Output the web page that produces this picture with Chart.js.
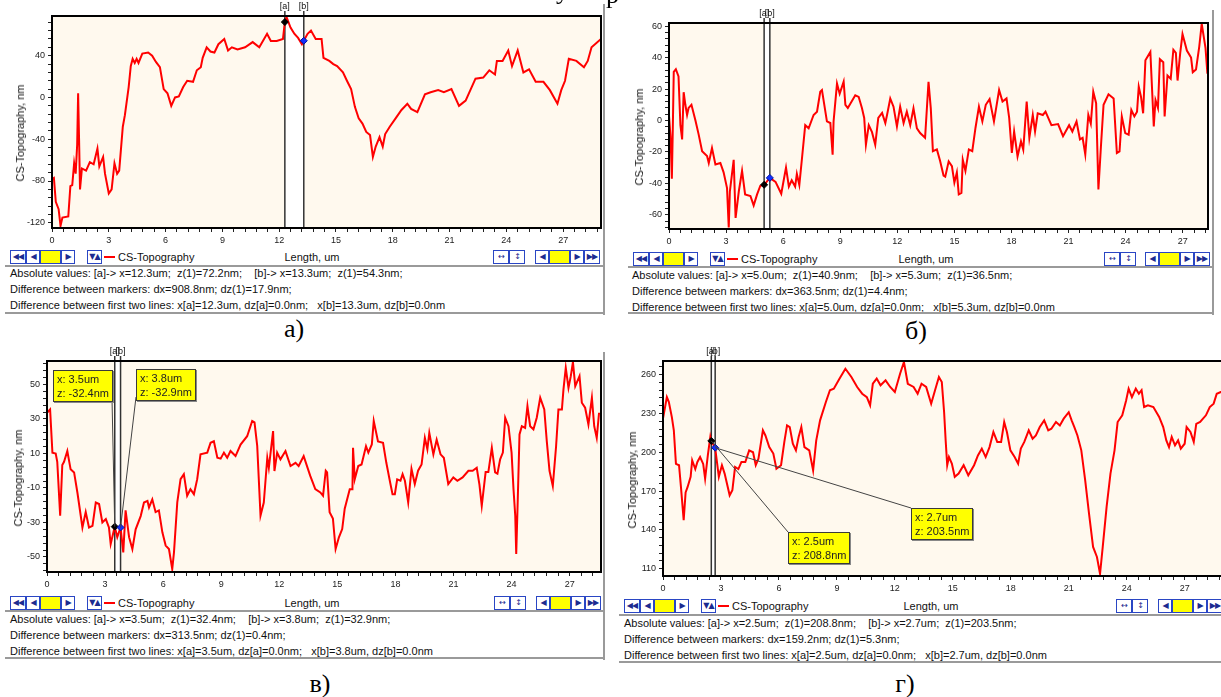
<!DOCTYPE html>
<html>
<head>
<meta charset="utf-8">
<title>CS-Topography</title>
<script src="https://cdn.jsdelivr.net/npm/chart.js@4.4.1/dist/chart.umd.min.js"></script>
<style>
  html, body { margin: 0; padding: 0; }
  body { width: 1221px; height: 697px; overflow: hidden; position: relative; background: #fff;
         font-family: "Liberation Sans", Arial, sans-serif; color: #000; }
  canvas.plot { position: absolute; }
  .info { position: absolute; font-size: 11px; line-height: 16px; white-space: pre; color: #111; }
  .hline { position: absolute; height: 2px; background: #9a9a9a; }
  .vline { position: absolute; width: 2px; background: #9a9a9a; }
  .ytitle { position: absolute; font-size: 11px; white-space: nowrap; transform: translate(-50%, -50%) rotate(-90deg); color: #111; }
  .xtitle { position: absolute; font-size: 11px; white-space: nowrap; transform: translate(-50%, -50%); color: #111; }
  .btn { position: absolute; height: 12px; border: 1px solid #2a46c4; background: #fff; color: #1c2b90;
         font: 8px "DejaVu Sans", sans-serif; line-height: 12px; text-align: center; letter-spacing: -1px; }
  .btn.yel { background: #ffff00; }
  .legline { position: absolute; height: 2px; width: 11px; background: #ff0000; }
  .legtext { position: absolute; font-size: 11px; white-space: nowrap; transform: translateY(-50%); color: #111; }
  .callout { position: absolute; background: #ffff00; border: 1px solid #3a3a3a; box-shadow: 1px 1px 0 #888;
             font-size: 11px; line-height: 14px; padding: 1px 3px; white-space: pre; color: #222; }
  .caption { position: absolute; font: 26px "Liberation Serif", "DejaVu Serif", serif; transform: translate(-50%, -50%); }
  .frag { position: absolute; font: 26px "Liberation Serif", serif; line-height: 30px; }
</style>
</head>
<body>
<script>
// Профили (x, um ; z, nm)
const profileA = [[0,-78],[0.1,-77],[0.2,-100],[0.35,-107],[0.45,-123],[0.55,-115],[0.86,-114],[0.97,-85],[1.07,-84],[1.17,-63],
  [1.25,-73],[1.33,-45],[1.38,4],[1.43,-40],[1.48,-88],[1.58,-68],[1.8,-70],[2.0,-62],[2.2,-64],[2.4,-49],[2.5,-66],[2.7,-57],
  [2.8,-73],[3.0,-92],[3.15,-88],[3.3,-63],[3.44,-73],[3.55,-70],[3.74,-28],[3.85,-17],[4.05,10],[4.16,30],[4.26,37],[4.37,33],
  [4.47,37],[4.57,33],[4.77,42],[5.08,43],[5.29,40],[5.49,34],[5.7,29],[5.9,8],[6.1,4],[6.3,-8],[6.5,0],[6.7,1],[6.93,10],
  [7.14,16],[7.45,15],[7.65,26],[7.86,29],[7.96,38],[8.17,48],[8.37,44],[8.58,43],[8.79,51],[9.1,56],[9.3,45],[9.5,48],[9.8,46],
  [10.2,48],[10.6,53],[10.95,48],[11.36,61],[11.56,54],[11.87,54],[12.2,56],[12.3,72.2],[12.39,77],[12.6,67],[12.8,61],[13.0,57],
  [13.2,51],[13.3,54.3],[13.5,61],[13.68,64],[13.93,56],[14.24,56],[14.34,38],[14.65,35],[14.86,32],[15.06,30],[15.37,24],
  [15.58,16],[15.8,8],[16.0,-9],[16.2,-20],[16.4,-25],[16.6,-33],[16.8,-36],[16.95,-57],[17.1,-47],[17.3,-38],[17.47,-47],
  [17.6,-35],[17.84,-28],[18.15,-20],[18.46,-12],[18.77,-6],[18.97,-11],[19.3,-14],[19.7,3],[20.0,5],[20.4,7],[20.7,5],[21.1,8],
  [21.5,-8],[21.85,-3],[22.37,18],[22.78,19],[23.1,26],[23.4,22],[23.5,35],[23.8,35],[24.1,45],[24.3,30],[24.6,45],[24.9,24],
  [25.2,27],[25.55,15],[25.96,15],[26.3,7],[26.7,-6],[26.9,7],[27.1,16],[27.3,37],[27.7,35],[28.1,29],[28.3,35],[28.5,48],[29.0,56]];

const profileB = [[0,3],[0.08,-10],[0.15,-37],[0.2,-5],[0.25,31],[0.36,32.6],[0.5,28],[0.6,-3],[0.69,-12],[0.77,18],[0.86,10],
  [0.95,3.5],[1.03,8],[1.18,10],[1.39,0],[1.56,-9],[1.74,-19.6],[2.0,-22.6],[2.09,-27],[2.26,-17.5],[2.44,-28],[2.7,-27],
  [2.87,-33],[3.05,-43],[3.14,-68],[3.2,-45],[3.4,-25],[3.5,-62],[3.67,-45],[3.84,-32],[4.0,-47],[4.28,-48],[4.45,-54],
  [4.63,-47],[4.8,-41.5],[5.0,-40.9],[5.3,-36.5],[5.6,-39],[5.9,-46.6],[6.15,-30],[6.3,-42],[6.45,-38],[6.63,-42],[6.72,-34],
  [6.85,-41],[6.99,-24],[7.16,-3],[7.34,-5],[7.6,3.5],[7.78,5.6],[7.95,18.3],[8.04,19.4],[8.3,-0.6],[8.48,-1.6],[8.6,-21.7],
  [8.65,-0.6],[8.83,23.5],[8.97,17],[9.18,24.7],[9.27,10],[9.4,8],[9.79,16],[9.97,15],[10.14,8],[10.26,1.6],[10.35,-15.4],
  [10.5,-3],[10.67,-7.4],[10.84,-15.4],[11.0,1.7],[11.2,4.8],[11.37,-1.6],[11.46,3.5],[11.63,14],[11.8,8.8],[11.98,-3.8],
  [12.15,8.8],[12.33,-1.6],[12.5,5.6],[12.68,-3],[12.85,7.7],[13.03,-5],[13.2,-8],[13.46,-11],[13.64,24.6],[13.76,7.7],
  [13.87,-19.5],[14.08,-18.4],[14.25,-25.8],[14.43,-35],[14.52,-35.7],[14.7,-26],[14.87,-29],[15.0,-39.5],[15.13,-33],
  [15.23,-47],[15.37,-46],[15.44,-25],[15.58,-32],[15.76,-18.4],[15.94,-19.5],[16.11,-4.6],[16.29,8.8],[16.47,-0.6],[16.65,10],
  [16.85,13.6],[17.08,-0.6],[17.35,19.4],[17.53,12],[17.74,14],[17.88,1.7],[18.02,-20.6],[18.14,-7],[18.32,-22.8],[18.5,-13.3],
  [18.62,-18.5],[18.8,12],[18.94,-11],[19.12,3.5],[19.24,-7],[19.38,4.6],[19.65,3.5],[19.79,5.6],[20.1,-3],[20.45,-2.3],
  [20.71,-10],[21.03,-3],[21.2,-7],[21.42,-0.6],[21.6,-12],[21.74,-11],[21.88,-21.6],[22.04,3.5],[22.17,-2],[22.3,18.3],
  [22.45,11],[22.57,-43.8],[22.7,-17],[22.84,10],[23.1,16.7],[23.37,14],[23.54,-20.7],[23.68,-19.6],[23.8,2.6],[23.98,-8],
  [24.16,-9],[24.3,6.7],[24.46,2.6],[24.6,5.6],[24.69,21.5],[24.81,15],[24.92,4.6],[25.04,38.3],[25.3,43.6],[25.48,-3.8],
  [25.57,13],[25.7,8],[25.8,39],[25.98,37],[26.05,2.6],[26.2,28.6],[26.37,26.5],[26.51,45],[26.64,43],[26.73,25.4],[26.87,43],
  [26.99,55],[27.22,44.5],[27.44,40],[27.53,30.7],[27.7,32.5],[27.87,47],[28.0,61.5],[28.2,46],[28.3,29.7],[28.35,40]];

const profileV = [[0,33.6],[0.16,35.5],[0.28,10.5],[0.45,10],[0.53,5.2],[0.68,-26],[0.79,3.3],[0.88,5.2],[1.05,11.4],[1.22,0.8],
  [1.4,-1],[1.57,-12.6],[1.83,-32.9],[2.0,-24],[2.17,-32.9],[2.35,-32],[2.52,-18.4],[2.69,-19.3],[2.86,-30],[3.04,-28],
  [3.2,-32.9],[3.29,-42.5],[3.5,-32.4],[3.63,-38.5],[3.8,-32.9],[3.94,-47.3],[4.06,-23],[4.24,-38.5],[4.41,-45.4],[4.58,-34],
  [4.84,-26.3],[5.01,-18.4],[5.19,-17.5],[5.27,-21.3],[5.44,-16.6],[5.61,-24],[5.78,-23],[5.96,-35.7],[6.13,-43.4],[6.3,-45.4],
  [6.47,-57],[6.56,-47.3],[6.73,-18.4],[6.9,-4.9],[7.07,-2],[7.24,-14.5],[7.41,-10.7],[7.59,-13.6],[7.76,-4.9],[7.93,9.5],
  [8.28,10.5],[8.45,16.2],[8.62,17.1],[8.8,7.5],[8.97,7],[9.14,10.5],[9.31,7.5],[9.48,11.4],[9.74,8.5],[10.0,15.2],[10.34,20],
  [10.6,28.8],[10.72,28],[10.86,14.4],[11.03,-26],[11.2,-18.4],[11.38,7.5],[11.46,1.7],[11.68,23],[11.75,-0.2],[11.89,10.5],
  [12.06,6.6],[12.32,11.4],[12.58,2.7],[12.84,4.6],[13.0,2.7],[13.26,8.5],[13.6,-3],[13.86,-10.7],[14.12,-12.6],[14.26,-14.5],
  [14.4,0],[14.47,-1],[14.6,-24],[14.77,-27.7],[14.91,-45.4],[15.08,-38.6],[15.25,-33.8],[15.38,-22],[15.64,-10.7],[15.78,-10.7],
  [15.81,13.3],[15.9,-4.9],[16.08,2.7],[16.25,3.6],[16.48,14.2],[16.6,10.5],[16.78,15.2],[16.88,28.8],[17.1,17],[17.36,16.2],
  [17.53,4.6],[17.73,-7],[17.85,-13.6],[17.97,-13.6],[18.09,-5],[18.26,-5.8],[18.37,-2],[18.49,-5.8],[18.66,-18.4],[18.83,1],
  [19.0,-7.7],[19.17,0],[19.35,3.6],[19.52,19],[19.65,12.4],[19.75,22],[19.96,9.5],[20.13,18],[20.33,9.5],[20.5,7.5],
  [20.73,-7.7],[20.99,-3.9],[21.2,-5.8],[21.47,-3.9],[21.77,0],[21.99,0],[22.2,1.7],[22.34,-8],[22.46,-20.3],[22.66,-0.8],
  [22.8,-0.8],[22.98,13.3],[23.15,-1],[23.27,-1.7],[23.41,6.6],[23.55,10.5],[23.67,30.7],[23.84,25.8],[24.0,10.5],[24.1,-10.7],
  [24.19,-26],[24.24,-48.3],[24.32,-16.6],[24.41,21],[24.53,25.8],[24.7,24.8],[24.82,37.5],[24.96,25.8],[25.13,24],[25.3,30.7],
  [25.48,42.3],[25.69,35.5],[25.82,17],[25.96,0],[26.13,-8.8],[26.3,14.2],[26.42,35.5],[26.6,35.5],[26.68,47],[26.8,59.6],
  [26.94,48],[27.06,54.8],[27.17,63],[27.29,49],[27.51,54.8],[27.63,39.4],[27.8,36.5],[27.97,26.8],[28.15,42.3],[28.27,25.8],
  [28.4,19],[28.52,33.6]];

const profileG = [[0,226],[0.2,242.7],[0.3,239],[0.46,227],[0.56,217],[0.67,191],[0.83,190],[0.93,173],[1.07,147.4],[1.17,169],
  [1.27,173],[1.43,181],[1.51,193.8],[1.67,187],[1.78,192.5],[1.92,196.3],[2.08,191],[2.18,179.6],[2.32,197.6],[2.45,212],
  [2.5,208.8],[2.6,206],[2.7,203.5],[2.89,181],[3.05,190],[3.19,183.5],[3.45,166.7],[3.59,170.6],[3.73,188.6],[3.9,187],
  [4.06,192.5],[4.26,192.5],[4.46,201.5],[4.66,200],[4.8,190],[4.94,195],[5.17,217],[5.3,213],[5.5,204],[5.71,199],[5.87,187.3],
  [6.11,190],[6.28,208],[6.42,220.8],[6.56,219.5],[6.72,206.6],[6.88,201.5],[7.02,211.8],[7.16,219.5],[7.32,204],[7.57,201.5],
  [7.77,186],[7.93,209],[8.13,224.7],[8.43,238.9],[8.64,248],[8.84,249.2],[9.14,257],[9.44,264.6],[9.75,258.2],[10.05,250.5],
  [10.31,245.3],[10.55,242.7],[10.72,236.3],[10.86,253],[11.06,257],[11.26,251.8],[11.52,255.6],[11.76,250.5],[12.0,246.6],
  [12.27,260.8],[12.47,269.8],[12.67,253],[12.97,250.5],[13.18,245.3],[13.38,253],[13.62,250.5],[13.88,237.6],[14.08,248],
  [14.28,258.2],[14.43,254.3],[14.55,231],[14.63,209],[14.71,190],[14.8,196.3],[14.95,191.2],[15.1,181],[15.3,183.5],[15.56,190],
  [15.8,182.2],[16.1,190],[16.3,197.6],[16.5,202.8],[16.7,196.3],[16.9,204],[17.1,215.7],[17.3,208],[17.5,208],[17.66,223.4],
  [17.8,215.7],[17.98,201.5],[18.2,196.3],[18.38,191.2],[18.52,202.8],[18.7,208],[18.93,217],[19.13,210.5],[19.3,213],
  [19.5,219.5],[19.73,224.7],[19.94,217],[20.1,218.2],[20.34,223.4],[20.54,220.8],[20.74,226],[21.0,231],[21.15,224.7],
  [21.29,219.5],[21.45,213],[21.65,201.5],[21.85,178.4],[22.05,152.5],[22.26,126.8],[22.46,119],[22.62,106],[22.76,126.8],
  [22.96,157.7],[23.16,183.5],[23.37,201.5],[23.53,223.4],[23.77,228.6],[23.97,240],[24.1,249.2],[24.27,242.7],[24.47,249.2],
  [24.63,245.3],[24.77,248],[24.9,235],[25.1,236.3],[25.38,235],[25.68,227.3],[25.89,219.5],[26.05,209.2],[26.19,204],
  [26.33,211.8],[26.5,205.4],[26.66,209.2],[26.8,202.8],[27.0,206.6],[27.1,219.5],[27.3,215.7],[27.47,208],[27.6,222],
  [27.8,223.4],[28.1,228.6],[28.3,235],[28.5,237.6],[28.66,245.3],[28.87,246.6],[29.2,247]];

// Подписи осей
const xTickLabels = [0, 3, 6, 9, 12, 15, 18, 21, 24, 27];
const yTicksA = [-120, -80, -40, 0, 40];
const yTicksB = [-60, -40, -20, 0, 20, 40, 60];
const yTicksV = [-50, -30, -10, 10, 30, 50];
const yTicksG = [110, 140, 170, 200, 230, 260];

// Маркеры [a], [b]: x (um) и z (nm)
const markersA = [12.3, 13.3], markerZA = [72.2, 54.3];
const markersB = [5.0, 5.3],   markerZB = [-40.9, -36.5];
const markersV = [3.5, 3.8],   markerZV = [-32.4, -32.9];
const markersG = [2.5, 2.7],   markerZG = [208.8, 203.5];

// Строки под графиками
const infoA = ['Absolute values: [a]-> x=12.3um;  z(1)=72.2nm;    [b]-> x=13.3um;  z(1)=54.3nm;',
  'Difference between markers: dx=908.8nm; dz(1)=17.9nm;',
  'Difference between first two lines: x[a]=12.3um, dz[a]=0.0nm;   x[b]=13.3um, dz[b]=0.0nm'];
const infoB = ['Absolute values: [a]-> x=5.0um;  z(1)=40.9nm;    [b]-> x=5.3um;  z(1)=36.5nm;',
  'Difference between markers: dx=363.5nm; dz(1)=4.4nm;',
  'Difference between first two lines: x[a]=5.0um, dz[a]=0.0nm;   x[b]=5.3um, dz[b]=0.0nm'];
const infoV = ['Absolute values: [a]-> x=3.5um;  z(1)=32.4nm;    [b]-> x=3.8um;  z(1)=32.9nm;',
  'Difference between markers: dx=313.5nm; dz(1)=0.4nm;',
  'Difference between first two lines: x[a]=3.5um, dz[a]=0.0nm;   x[b]=3.8um, dz[b]=0.0nm'];
const infoG = ['Absolute values: [a]-> x=2.5um;  z(1)=208.8nm;    [b]-> x=2.7um;  z(1)=203.5nm;',
  'Difference between markers: dx=159.2nm; dz(1)=5.3nm;',
  'Difference between first two lines: x[a]=2.5um, dz[a]=0.0nm;   x[b]=2.7um, dz[b]=0.0nm'];

// Расположение панелей (пиксели страницы)
const panels = [
  { profile: profileA, yTicks: yTicksA, yMinor: 8, xMax: 29.0, yMin: -125, yMax: 78,
    markers: markersA, markerZ: markerZA, info: infoA, caption: 'а)',
    plot: { l: 52, t: 16, r: 601, b: 228 }, yTitle: [20, 133],
    tb: { y: 257, left: 10, r1: 493, r2: 535, lenX: 312 }, infoPos: [10, 265],
    rightLine: [603, 4, 313], box: [5, 605, 265, 312], capPos: [294, 329], callouts: [] },
  { profile: profileB, yTicks: yTicksB, yMinor: 4, xMax: 28.33, yMin: -69, yMax: 62,
    markers: markersB, markerZ: markerZB, info: infoB, caption: 'б)',
    plot: { l: 669, t: 23, r: 1208, b: 229 }, yTitle: [639, 137],
    tb: { y: 259, left: 633, r1: 1104, r2: 1145, lenX: 926 }, infoPos: [632, 267],
    rightLine: [1212, 10, 313], box: [628, 1214, 266, 312], capPos: [916, 331], callouts: [] },
  { profile: profileV, yTicks: yTicksV, yMinor: 4, xMax: 28.62, yMin: -58.7, yMax: 63.6,
    markers: markersV, markerZ: markerZV, info: infoV, caption: 'в)',
    plot: { l: 47, t: 361, r: 601, b: 572 }, yTitle: [18, 478],
    tb: { y: 603, left: 10, r1: 494, r2: 536, lenX: 312 }, infoPos: [10, 611],
    rightLine: [603, 352, 658], box: [5, 605, 610, 657], capPos: [320, 684],
    callouts: [ { pos: [53, 370], anchor: [112, 399], idx: 0, text: 'x: 3.5um\nz: -32.4nm' },
                { pos: [136, 369], anchor: [136, 397], idx: 1, text: 'x: 3.8um\nz: -32.9nm' } ] },
  { profile: profileG, yTicks: yTicksG, yMinor: 6, xMax: 29.45, yMin: 104.3, yMax: 270.6,
    markers: markersG, markerZ: markerZG, info: infoG, caption: 'г)',
    plot: { l: 663, t: 361, r: 1232, b: 576 }, yTitle: [632, 480],
    tb: { y: 606, left: 624, r1: 1116, r2: 1158, lenX: 931 }, infoPos: [624, 615],
    rightLine: null, box: [619, 1240, 614, 661], capPos: [905, 684],
    callouts: [ { pos: [788, 532], anchor: [788, 532], idx: 0, text: 'x: 2.5um\nz: 208.8nm' },
                { pos: [911, 508], anchor: [911, 508], idx: 1, text: 'x: 2.7um\nz: 203.5nm' } ] }
];

const CREAM = '#fff9ee';
const Y_AXIS_W = 45, X_AXIS_H = 22;

function addEl(cls, html, style) {
  const d = document.createElement('div');
  d.className = cls;
  d.innerHTML = html;
  Object.assign(d.style, style);
  document.body.appendChild(d);
  return d;
}

function addButtons(x, y, list) {
  list.forEach(([g, w, yel]) => {
    addEl('btn' + (yel ? ' yel' : ''), g, { left: x + 'px', top: (y - 7) + 'px', width: w + 'px' });
    x += w + 2;
  });
}

function addToolbar(tb) {
  addButtons(tb.left, tb.y, [['◀◀', 14], ['◀', 12], ['', 19, true], ['▶', 12]]);
  addButtons(tb.left + 77, tb.y, [['▼▲', 13]]);
  addEl('legline', '', { left: (tb.left + 94) + 'px', top: (tb.y - 1) + 'px' });
  addEl('legtext', 'CS-Topography', { left: (tb.left + 108) + 'px', top: tb.y + 'px' });
  addEl('xtitle', 'Length, um', { left: tb.lenX + 'px', top: tb.y + 'px' });
  addButtons(tb.r1, tb.y, [['↔', 14], ['↕', 14]]);
  addButtons(tb.r2, tb.y, [['◀', 12], ['', 19, true], ['▶', 12], ['▶▶', 14]]);
}

// Фон, маркеры, рамка, выноски
const decorPlugin = {
  id: 'decor',
  beforeDatasetsDraw(chart, args, o) {
    const { ctx, chartArea: a, scales: { x } } = chart;
    ctx.save();
    ctx.fillStyle = CREAM;
    ctx.fillRect(a.left, a.top, a.right - a.left, a.bottom - a.top);
    const xa = x.getPixelForValue(o.markers[0]), xb = x.getPixelForValue(o.markers[1]);
    ctx.fillStyle = '#ffffff';
    ctx.fillRect(xa, a.top, xb - xa, a.bottom - a.top);
    ctx.strokeStyle = '#333';
    ctx.lineWidth = 1.5;
    [xa, xb].forEach(px => {
      ctx.beginPath(); ctx.moveTo(px, a.top - 5); ctx.lineTo(px, a.bottom); ctx.stroke();
    });
    ctx.restore();
  },
  afterDraw(chart, args, o) {
    const { ctx, chartArea: a, scales: { x, y } } = chart;
    ctx.save();
    ctx.strokeStyle = '#000';
    ctx.lineWidth = 2;
    ctx.strokeRect(a.left, a.top, a.right - a.left, a.bottom - a.top);
    ctx.font = '9px "Liberation Sans", Arial, sans-serif';
    ctx.fillStyle = '#111';
    ctx.textAlign = 'center';
    ctx.textBaseline = 'middle';
    ['[a]', '[b]'].forEach((t, i) => ctx.fillText(t, x.getPixelForValue(o.markers[i]), a.top - 9));
    ctx.strokeStyle = '#444';
    ctx.lineWidth = 1;
    o.callouts.forEach(c => {
      ctx.beginPath();
      ctx.moveTo(c.anchor[0] - o.offset[0], c.anchor[1] - o.offset[1]);
      ctx.lineTo(x.getPixelForValue(o.markers[c.idx]), y.getPixelForValue(o.markerZ[c.idx]));
      ctx.stroke();
    });
    ctx.restore();
  }
};

function near(list, v) { return list.some(m => Math.abs(m - v) < 1e-6); }

function minorTicks(min, max, anchor, step) {
  const start = anchor - step * Math.floor((anchor - min) / step + 1e-9);
  const t = [];
  for (let v = start; v <= max + 1e-9; v += step) t.push({ value: Math.round(v * 1000) / 1000 });
  return t;
}

panels.forEach(p => {
  const padTop = Math.min(20, p.plot.t);
  const left = p.plot.l - Y_AXIS_W, top = p.plot.t - padTop;
  const cv = document.createElement('canvas');
  cv.className = 'plot';
  cv.width = p.plot.r - p.plot.l + Y_AXIS_W + 4;
  cv.height = p.plot.b - p.plot.t + padTop + X_AXIS_H;
  cv.style.left = left + 'px';
  cv.style.top = top + 'px';
  document.body.appendChild(cv);

  const tickFont = { family: '"Liberation Sans", Arial, sans-serif', size: 9 };
  new Chart(cv.getContext('2d'), {
    type: 'line',
    data: {
      datasets: [
        { data: p.profile.map(d => ({ x: d[0], y: d[1] })), borderColor: '#ff0000', borderWidth: 2,
          pointRadius: 0, tension: 0, order: 2 },
        { data: [{ x: p.markers[0], y: p.markerZ[0] }], showLine: false, pointStyle: 'rectRot', pointRadius: 3.5,
          backgroundColor: '#000', borderColor: '#000', order: 1 },
        { data: [{ x: p.markers[1], y: p.markerZ[1] }], showLine: false, pointStyle: 'rectRot', pointRadius: 3.5,
          backgroundColor: '#1030ff', borderColor: '#0010a0', order: 0 }
      ]
    },
    options: {
      responsive: false, animation: false, devicePixelRatio: 1,
      layout: { padding: { top: padTop, right: 4, left: 0, bottom: 0 }, autoPadding: false },
      plugins: { legend: { display: false }, tooltip: { enabled: false },
        decor: { markers: p.markers, markerZ: p.markerZ, callouts: p.callouts, offset: [left, top] } },
      scales: {
        x: { type: 'linear', min: 0, max: p.xMax,
          afterFit(s) { s.height = X_AXIS_H; },
          afterBuildTicks(s) { s.ticks = minorTicks(0, p.xMax, 0, 0.6); },
          ticks: { autoSkip: false, maxRotation: 0, padding: 3, color: '#222', font: tickFont,
            callback: v => near(xTickLabels, v) ? String(v) : '' },
          grid: { drawOnChartArea: false, tickLength: 4, color: '#222' }, border: { display: false } },
        y: { type: 'linear', min: p.yMin, max: p.yMax,
          afterFit(s) { s.width = Y_AXIS_W; },
          afterBuildTicks(s) { s.ticks = minorTicks(p.yMin, p.yMax, p.yTicks[0], p.yMinor); },
          ticks: { autoSkip: false, padding: 3, color: '#222', font: tickFont,
            callback: v => near(p.yTicks, v) ? String(v) : '' },
          grid: { drawOnChartArea: false, tickLength: 4, color: '#222' }, border: { display: false } }
      }
    },
    plugins: [decorPlugin]
  });

  addEl('ytitle', 'CS-Topography, nm', { left: p.yTitle[0] + 'px', top: p.yTitle[1] + 'px' });
  addToolbar(p.tb);
  addEl('info', p.info.join('\n'), { left: p.infoPos[0] + 'px', top: p.infoPos[1] + 'px' });
  const [bx1, bx2, bt, bb] = p.box;
  addEl('hline', '', { left: bx1 + 'px', top: bt + 'px', width: (bx2 - bx1) + 'px' });
  addEl('hline', '', { left: bx1 + 'px', top: bb + 'px', width: (bx2 - bx1) + 'px' });
  if (p.rightLine) {
    const [rx, ry1, ry2] = p.rightLine;
    addEl('vline', '', { left: rx + 'px', top: ry1 + 'px', height: (ry2 - ry1 + 2) + 'px' });
  }
  p.callouts.forEach(c => addEl('callout', c.text, { left: c.pos[0] + 'px', top: c.pos[1] + 'px' }));
  addEl('caption', p.caption, { left: p.capPos[0] + 'px', top: p.capPos[1] + 'px' });
});

// обрывки текста сверху страницы
addEl('frag', 'у', { left: '556px', top: '-24px' });
addEl('frag', 'р', { left: '606px', top: '-20px' });
</script>
</body>
</html>
